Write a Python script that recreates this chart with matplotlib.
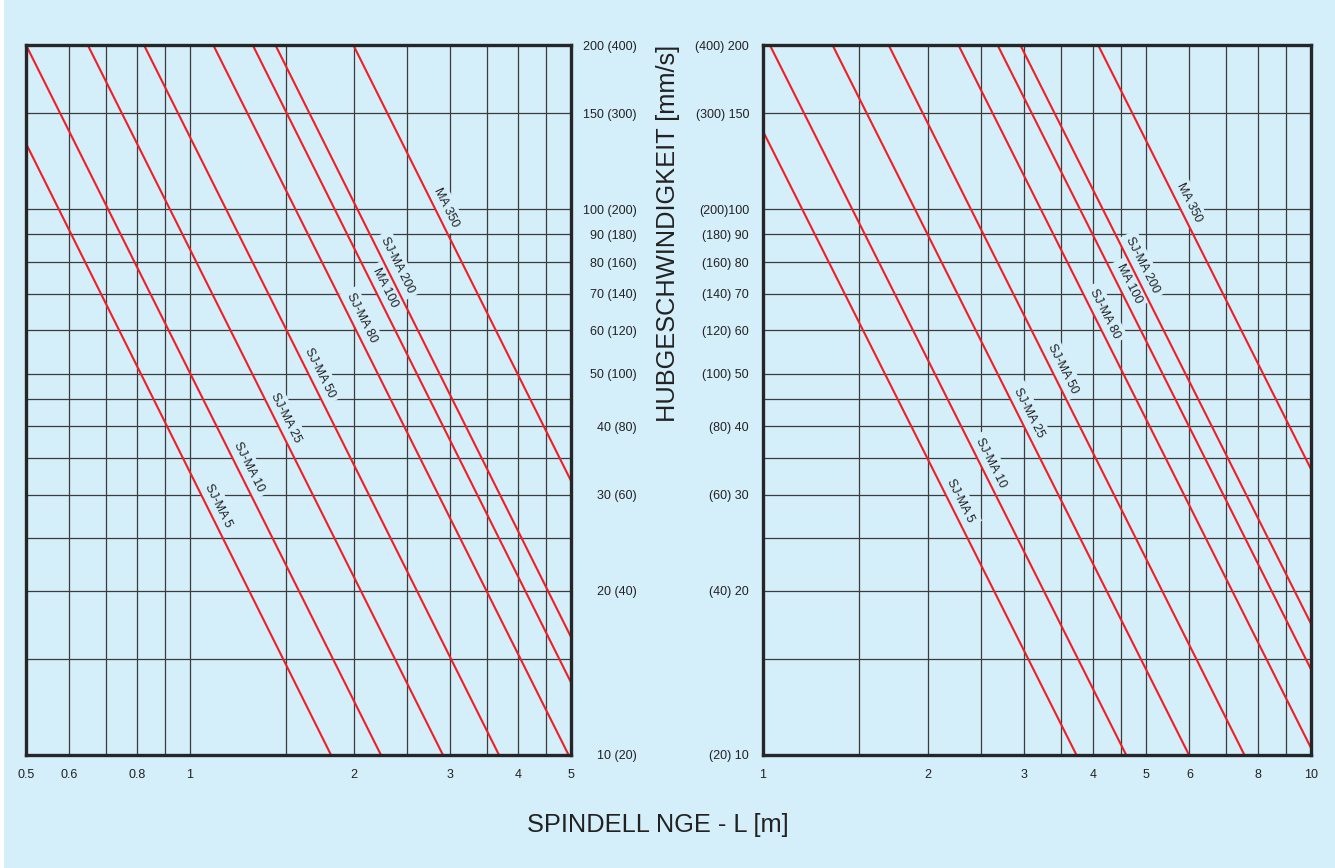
import numpy as np
import matplotlib.pyplot as plt
from matplotlib.patches import Rectangle

plt.rcParams['font.family'] = ['Liberation Sans', 'DejaVu Sans']

# --- data ---
names = ["SJ-MA 5", "SJ-MA 10", "SJ-MA 25", "SJ-MA 50", "SJ-MA 80",
         "MA 100", "SJ-MA 200", "MA 350"]

# left diagram: start point (L0, v0) and end point (L1, v1) of each line
left_L0 = [0.5, 0.5, 0.649, 0.823, 1.103, 1.303, 1.434, 1.993]
left_v0 = [132, 200, 200, 200, 200, 200, 200, 200]
left_L1 = [1.814, 2.24, 2.911, 3.689, 4.95, 5.0, 5.0, 5.0]
left_v1 = [10, 10, 10, 10, 10, 13.58, 16.45, 31.8]

# right diagram
right_L0 = [1.0, 1.029, 1.339, 1.695, 2.273, 2.679, 2.948, 4.088]
right_v0 = [139, 200, 200, 200, 200, 200, 200, 200]
right_L1 = [3.733, 4.60, 5.99, 7.56, 10.0, 10.0, 10.0, 10.0]
right_v1 = [10, 10, 10, 10, 10.3, 14.35, 17.4, 33.4]

y_ticks = [200, 150, 100, 90, 80, 70, 60, 50, 40, 30, 20, 10]
left_ylabels = ["200 (400)", "150 (300)", "100 (200)", "90 (180)", "80 (160)",
                "70 (140)", "60 (120)", "50 (100)", "40 (80)", "30 (60)",
                "20 (40)", "10 (20)"]
right_ylabels = ["(400) 200", "(300) 150", "(200)100", "(180) 90", "(160) 80",
                 "(140) 70", "(120) 60", "(100) 50", "(80) 40", "(60) 30",
                 "(40) 20", "(20) 10"]
left_xticks = [0.5, 0.6, 0.8, 1, 2, 3, 4, 5]
left_xlabels = ["0.5", "0.6", "0.8", "1", "2", "3", "4", "5"]
right_xticks = [1, 2, 3, 4, 5, 6, 8, 10]
right_xlabels = ["1", "2", "3", "4", "5", "6", "8", "10"]

left_xgrid = [0.6, 0.7, 0.8, 0.9, 1, 1.5, 2, 2.5, 3, 3.5, 4, 4.5]
right_xgrid = [1.5, 2, 2.5, 3, 3.5, 4, 4.5, 5, 6, 7, 8, 9]
y_grid = [15, 20, 25, 30, 35, 40, 45, 50, 60, 70, 80, 90, 100, 150]

# speed (on the line) where each name label sits
left_label_v = [28.1, 33.0, 40.7, 49.1, 61.9, 70.5, 77.4, 98.9]
right_label_v = [28.7, 33.7, 41.6, 50.1, 63.2, 71.7, 77.4, 101]

BG = '#d4eefa'
RED = '#ee1f26'
DARK = '#262626'
W, H = 1335, 868

fig = plt.figure(figsize=(W / 100, H / 100), dpi=100)
fig.patch.set_facecolor('white')
fig.add_artist(Rectangle((4 / W, 0), 1, 1, transform=fig.transFigure,
                         facecolor=BG, edgecolor='none', zorder=-10))

axL = fig.add_axes([26 / W, 113 / H, 545 / W, 710 / H])
axR = fig.add_axes([763 / W, 113 / H, 548 / W, 710 / H])


def draw_panel(ax, L0, v0, L1, v1, xlim, xgrid, label_v):
    ax.set_facecolor(BG)
    ax.set_xscale('log')
    ax.set_yscale('log')
    ax.set_xlim(*xlim)
    ax.set_ylim(10, 200)
    ax.minorticks_off()
    for x in xgrid:
        ax.axvline(x, color='#3c3c3c', lw=0.9, zorder=1)
    for y in y_grid:
        ax.axhline(y, color='#3c3c3c', lw=0.9, zorder=1)
    for s in ax.spines.values():
        s.set_linewidth(2.4)
        s.set_color(DARK)
        s.set_zorder(6)
    for i in range(len(names)):
        ax.plot([L0[i], L1[i]], [v0[i], v1[i]], color=RED, lw=1.5,
                solid_capstyle='butt', zorder=4, clip_on=False)

    fig.canvas.draw()
    for i in range(len(names)):
        p0 = ax.transData.transform((L0[i], v0[i]))
        p1 = ax.transData.transform((L1[i], v1[i]))
        ang = np.degrees(np.arctan2(p1[1] - p0[1], p1[0] - p0[0]))
        t = (np.log10(label_v[i]) - np.log10(v0[i])) / (np.log10(v1[i]) - np.log10(v0[i]))
        lx = 10 ** (np.log10(L0[i]) + t * (np.log10(L1[i]) - np.log10(L0[i])))
        d = np.array([p1[0] - p0[0], p1[1] - p0[1]])
        d = d / np.hypot(*d)
        n = np.array([-d[1], d[0]])  # upper-right side of the line
        off = n * 10.5
        ax.annotate(names[i], xy=(lx, label_v[i]), xytext=(off[0], off[1]),
                    textcoords='offset pixels', rotation=ang,
                    rotation_mode='anchor', ha='center', va='center',
                    fontsize=9, color='#222222', zorder=3,
                    bbox=dict(boxstyle='square,pad=0.35', facecolor=BG,
                              edgecolor='none'))


draw_panel(axL, left_L0, left_v0, left_L1, left_v1, (0.5, 5), left_xgrid, left_label_v)
draw_panel(axR, right_L0, right_v0, right_L1, right_v1, (1, 10), right_xgrid, right_label_v)

# ticks left panel
axL.set_xticks(left_xticks, left_xlabels)
axL.yaxis.tick_right()
axL.set_yticks(y_ticks, left_ylabels)
axL.tick_params(axis='both', length=0, labelsize=9, colors='#222222')
axL.tick_params(axis='x', pad=10)
axL.tick_params(axis='y', pad=47)
for lbl in axL.get_yticklabels():
    lbl.set_horizontalalignment('right')

# ticks right panel
axR.set_xticks(right_xticks, right_xlabels)
axR.set_yticks(y_ticks, right_ylabels)
axR.tick_params(axis='both', length=0, labelsize=9, colors='#222222')
axR.tick_params(axis='x', pad=10)
axR.tick_params(axis='y', pad=10)

fig.text(667.5 / W, (H - 45) / H, "HUBGESCHWINDIGKEIT [mm/s]", rotation=90,
         ha='center', va='top', fontsize=18.3, color='#222222')
fig.text(658 / W, (H - 832) / H, "SPINDELL NGE - L [m]", ha='center',
         va='baseline', fontsize=18.3, color='#222222')

fig.savefig('out.png', dpi=100, facecolor=fig.get_facecolor())
